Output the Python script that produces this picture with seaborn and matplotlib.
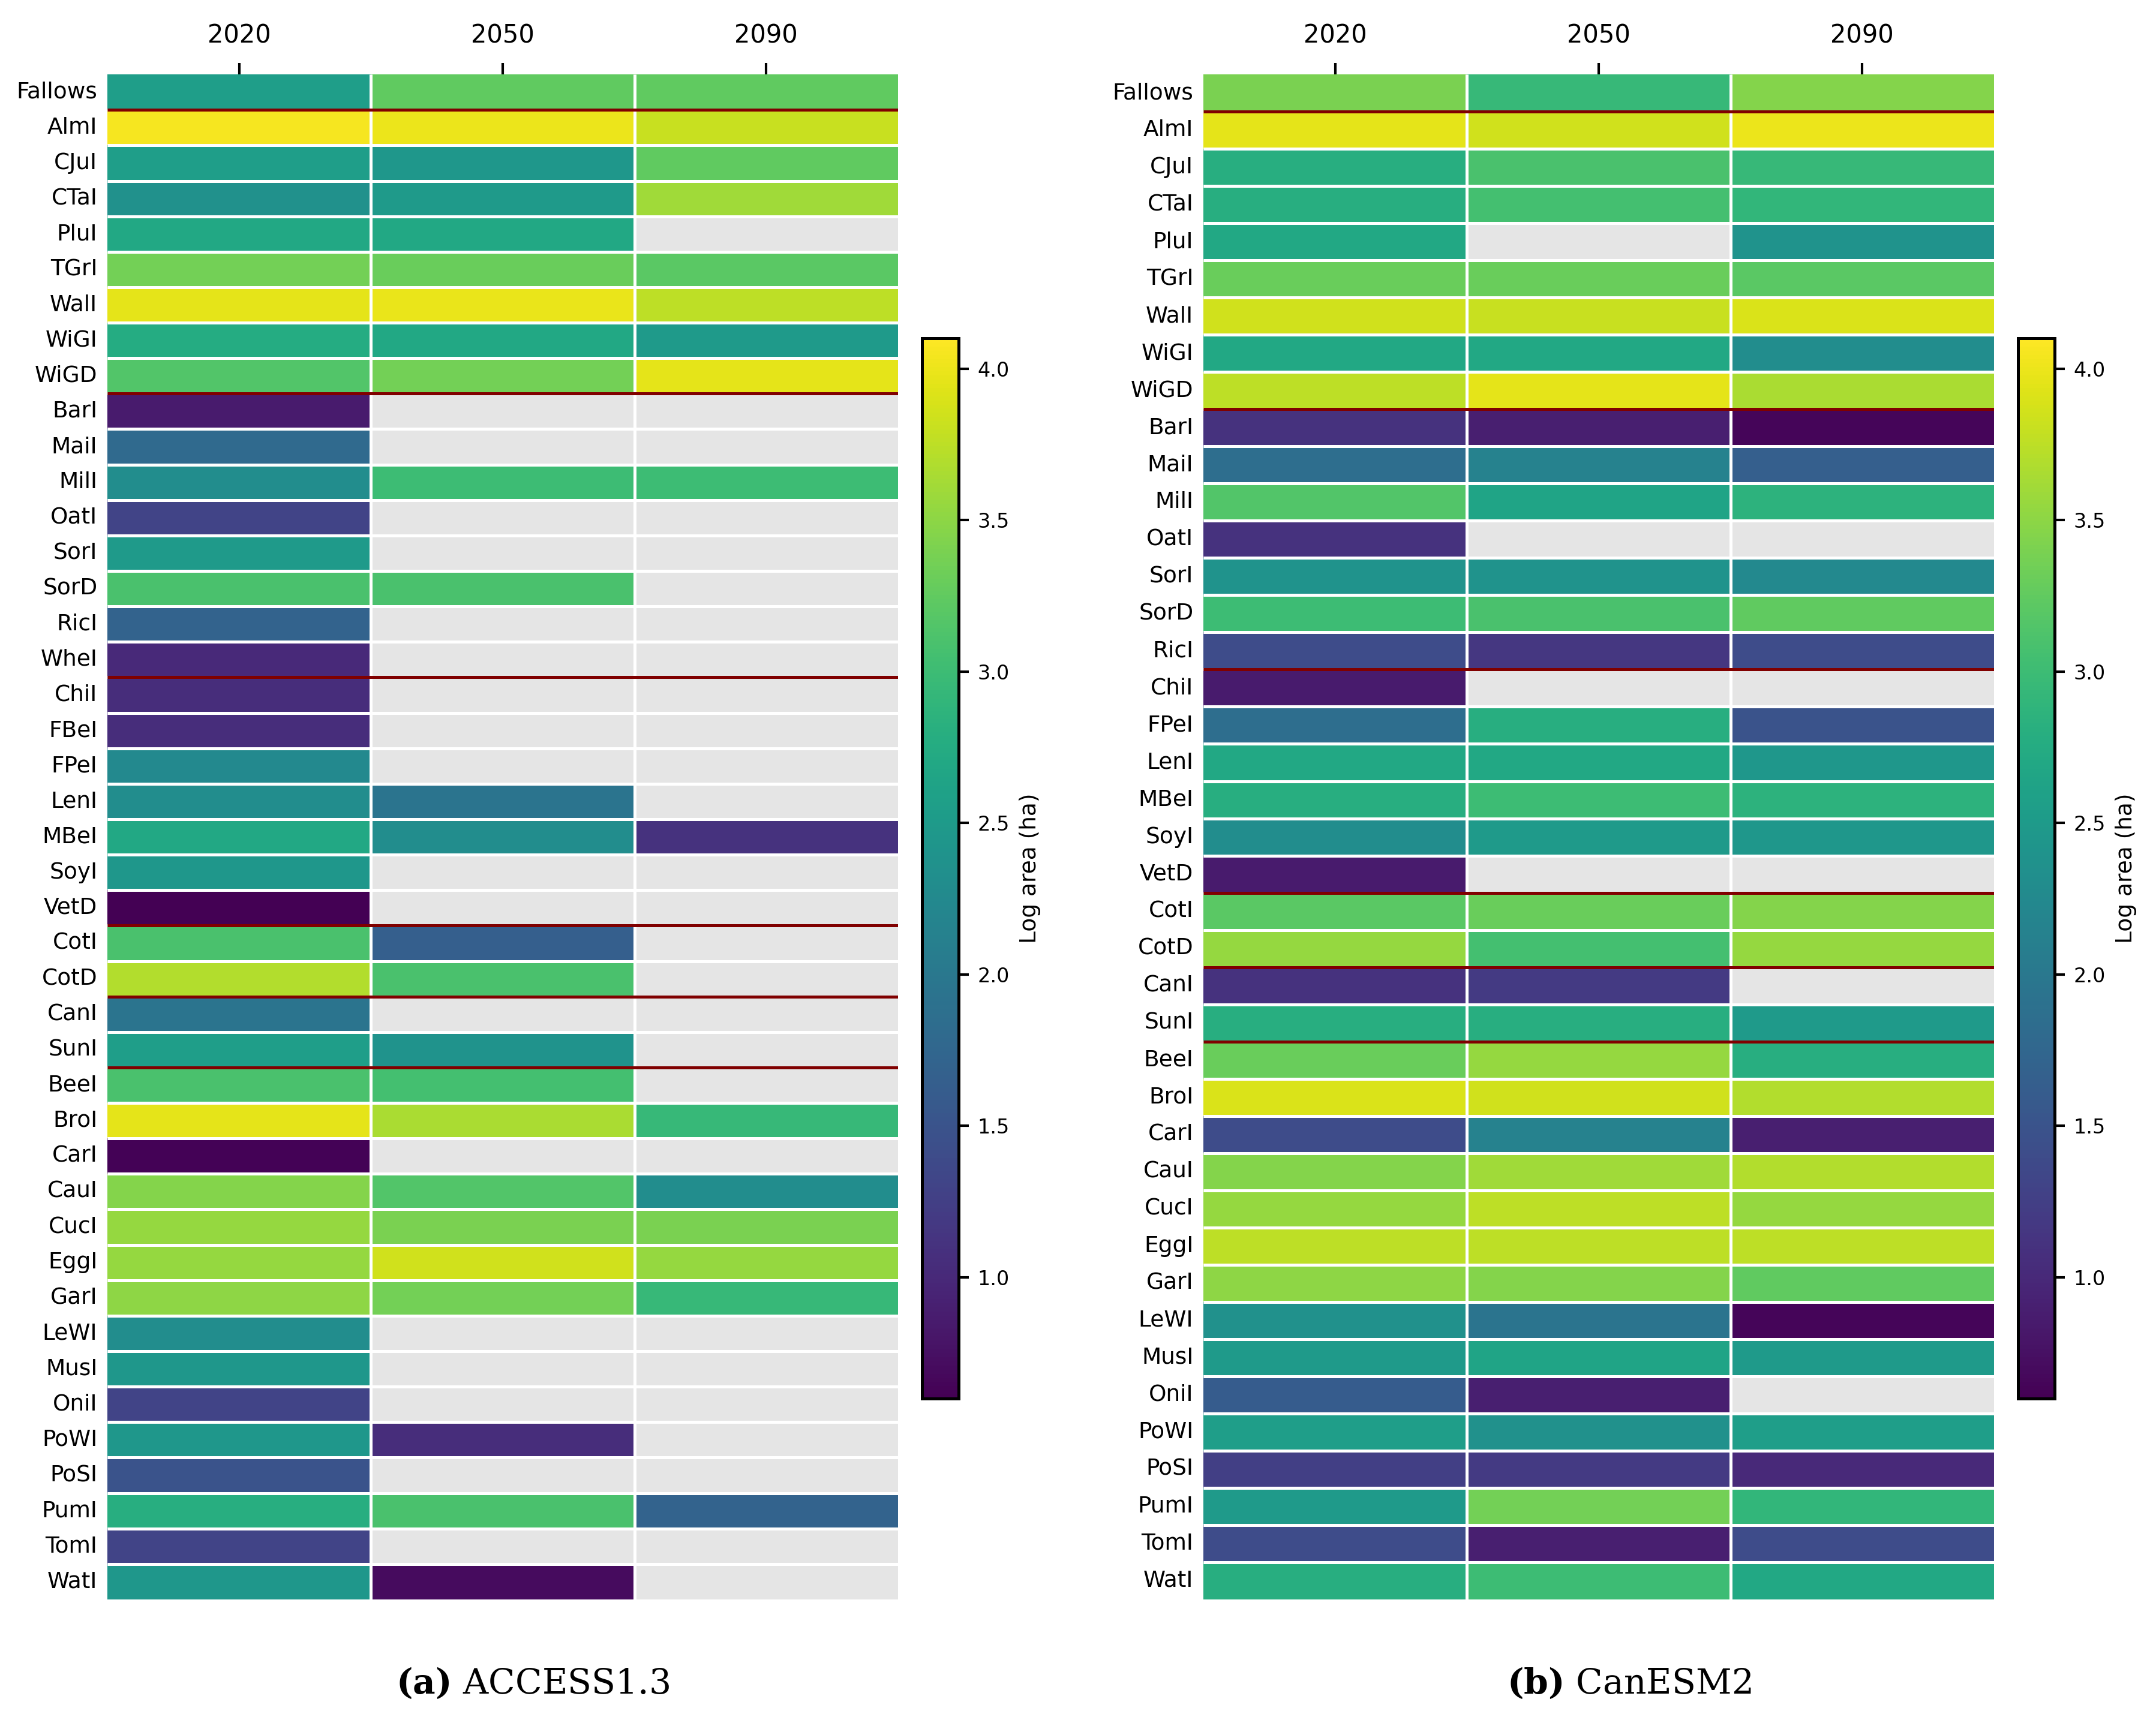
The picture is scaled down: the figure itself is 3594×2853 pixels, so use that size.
import numpy as np
import pandas as pd
import seaborn as sns
import matplotlib.pyplot as plt

# --- data (log10 area, ha; nan = crop not grown) ---
years = ['2020', '2050', '2090']

access_crops = ['Fallows', 'AlmI', 'CJuI', 'CTaI', 'PluI', 'TGrI', 'WalI', 'WiGI', 'WiGD',
                'BarI', 'MaiI', 'MilI', 'OatI', 'SorI', 'SorD', 'RicI', 'WheI',
                'ChiI', 'FBeI', 'FPeI', 'LenI', 'MBeI', 'SoyI', 'VetD',
                'CotI', 'CotD', 'CanI', 'SunI',
                'BeeI', 'BroI', 'CarI', 'CauI', 'CucI', 'EggI', 'GarI', 'LeWI', 'MusI',
                'OniI', 'PoWI', 'PoSI', 'PumI', 'TomI', 'WatI']
access_2020 = [2.55, 4.05, 2.55, 2.35, 2.7, 3.35, 3.95, 2.75, 3.15,
               0.85, 1.8, 2.3, 1.3, 2.5, 3.1, 1.7, 1.0,
               1.05, 1.05, 2.25, 2.3, 2.7, 2.45, 0.6,
               3.1, 3.7, 1.95, 2.55,
               3.1, 3.95, 0.62, 3.45, 3.55, 3.55, 3.5, 2.3, 2.45,
               1.3, 2.45, 1.5, 2.8, 1.3, 2.45]
access_2050 = [3.25, 4.0, 2.45, 2.5, 2.7, 3.3, 3.98, 2.7, 3.35,
               np.nan, np.nan, 3.0, np.nan, np.nan, 3.1, np.nan, np.nan,
               np.nan, np.nan, np.nan, 1.95, 2.3, np.nan, np.nan,
               1.65, 3.1, np.nan, 2.4,
               3.05, 3.65, np.nan, 3.15, 3.4, 3.85, 3.35, np.nan, np.nan,
               np.nan, 1.05, np.nan, 3.1, np.nan, 0.7]
access_2090 = [3.25, 3.8, 3.25, 3.6, np.nan, 3.2, 3.75, 2.5, 3.95,
               np.nan, np.nan, 3.0, np.nan, np.nan, np.nan, np.nan, np.nan,
               np.nan, np.nan, np.nan, np.nan, 1.1, np.nan, np.nan,
               np.nan, np.nan, np.nan, np.nan,
               np.nan, 2.95, np.nan, 2.3, 3.4, 3.55, 2.95, np.nan, np.nan,
               np.nan, np.nan, np.nan, 1.7, np.nan, np.nan]
access_breaks = ['Fallows', 'WiGD', 'WheI', 'VetD', 'CotD', 'SunI']

canesm_crops = ['Fallows', 'AlmI', 'CJuI', 'CTaI', 'PluI', 'TGrI', 'WalI', 'WiGI', 'WiGD',
                'BarI', 'MaiI', 'MilI', 'OatI', 'SorI', 'SorD', 'RicI',
                'ChiI', 'FPeI', 'LenI', 'MBeI', 'SoyI', 'VetD',
                'CotI', 'CotD', 'CanI', 'SunI',
                'BeeI', 'BroI', 'CarI', 'CauI', 'CucI', 'EggI', 'GarI', 'LeWI', 'MusI',
                'OniI', 'PoWI', 'PoSI', 'PumI', 'TomI', 'WatI']
canesm_2020 = [3.4, 3.95, 2.8, 2.8, 2.7, 3.3, 3.85, 2.7, 3.75,
               1.1, 1.85, 3.15, 1.1, 2.4, 3.0, 1.4,
               0.85, 1.85, 2.7, 2.8, 2.3, 0.85,
               3.2, 3.55, 1.1, 2.8,
               3.3, 3.9, 1.4, 3.45, 3.55, 3.75, 3.5, 2.35, 2.5,
               1.6, 2.55, 1.25, 2.5, 1.4, 2.8]
canesm_2050 = [2.95, 3.85, 3.1, 3.05, np.nan, 3.3, 3.8, 2.7, 3.95,
               0.9, 2.15, 2.65, np.nan, 2.4, 3.1, 1.15,
               np.nan, 2.8, 2.7, 3.0, 2.5, np.nan,
               3.3, 3.05, 1.2, 2.8,
               3.55, 3.85, 2.15, 3.6, 3.75, 3.75, 3.45, 1.95, 2.65,
               0.9, 2.35, 1.2, 3.35, 0.9, 3.0]
canesm_2090 = [3.45, 4.0, 2.95, 2.9, 2.4, 3.2, 3.9, 2.3, 3.65,
               0.65, 1.65, 2.85, np.nan, 2.25, 3.25, 1.4,
               np.nan, 1.5, 2.45, 2.85, 2.45, np.nan,
               3.45, 3.55, np.nan, 2.5,
               2.8, 3.7, 0.9, 3.7, 3.55, 3.75, 3.25, 0.65, 2.5,
               np.nan, 2.55, 1.0, 2.9, 1.4, 2.7]
canesm_breaks = ['Fallows', 'WiGD', 'RicI', 'VetD', 'CotD', 'SunI']

plt.rcParams['mathtext.fontset'] = 'dejavuserif'


def draw_panel(fig, ax_rect, cax_rect, crops, cols, breaks, caption):
    ax = fig.add_axes(ax_rect)
    cax = fig.add_axes(cax_rect)
    df = pd.DataFrame(dict(zip(years, cols)), index=crops)
    ax.set_facecolor('#e5e5e5')
    sns.heatmap(df, ax=ax, cbar_ax=cax, cmap='viridis', vmin=0.6, vmax=4.1,
                yticklabels=True, cbar_kws={'label': 'Log area (ha)'})
    n = len(crops)
    # white grid also between empty cells
    ax.hlines(np.arange(1, n), 0, 3, color='white', lw=1.2)
    ax.vlines([1, 2], 0, n, color='white', lw=1.2)
    for b in breaks:
        ax.hlines(crops.index(b) + 1, 0, 3, color='#800000', lw=1.2, zorder=3)

    ax.xaxis.tick_top()
    ax.tick_params(axis='x', labelsize=10, length=4.5, width=1, pad=6)
    ax.tick_params(axis='y', labelsize=9, length=0, pad=4, rotation=0)
    ax.set_xlabel('')
    ax.set_ylabel('')

    cax.tick_params(labelsize=8, length=4, width=1)
    cax.yaxis.label.set_size(9)
    cbar = ax.collections[0].colorbar
    cbar.set_ticks([1.0, 1.5, 2.0, 2.5, 3.0, 3.5, 4.0])
    cbar.outline.set_linewidth(1.2)
    cbar.outline.set_edgecolor('black')

    x_mid = (ax_rect[0] + cax_rect[0] + cax_rect[2]) / 2
    fig.text(x_mid, 0.006, caption, ha='center', va='bottom',
             fontsize=14, family='DejaVu Serif')
    return ax


fig = plt.figure(figsize=(3595 / 300, 2853 / 300), dpi=300)

draw_panel(fig, [0.0498, 0.0652, 0.3666, 0.8913], [0.4275, 0.1826, 0.017, 0.6197],
           access_crops, [access_2020, access_2050, access_2090], access_breaks,
           r'$\mathbf{(a)}$ ACCESS1.3')
draw_panel(fig, [0.558, 0.0652, 0.3666, 0.8913], [0.9357, 0.1826, 0.017, 0.6197],
           canesm_crops, [canesm_2020, canesm_2050, canesm_2090], canesm_breaks,
           r'$\mathbf{(b)}$ CanESM2')

fig.savefig('out.png', dpi=300)
